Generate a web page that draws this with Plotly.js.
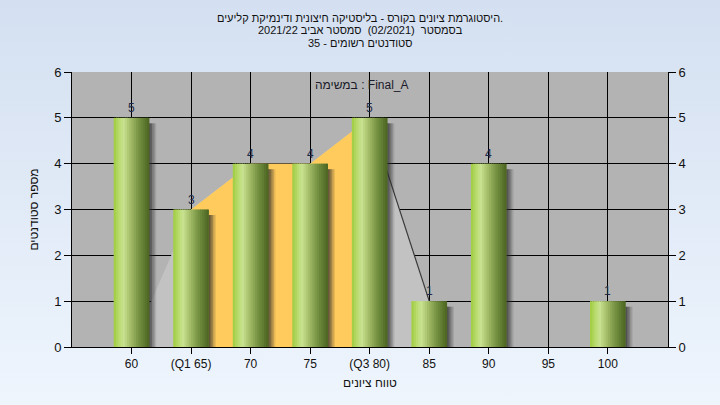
<!DOCTYPE html>
<html>
<head>
<meta charset="utf-8">
<script src="https://cdn.plot.ly/plotly-3.0.1.min.js"></script>
<style>
  html, body { margin: 0; padding: 0; }
  body { width: 720px; height: 405px; background: linear-gradient(to bottom, #d4e0f1 0%, #eef5fd 100%); }
  #chart { width: 720px; height: 405px; }
</style>
</head>
<body>
<div id="chart"></div>
<script>
// ---- data ----
const categories = [60, 65, 70, 75, 80, 85, 90, 95, 100];
const tickLabels = ["60", "(Q1 65)", "70", "75", "(Q3 80)", "85", "90", "95", "100"];
const counts = [5, 3, 4, 4, 5, 1, 4, 0, 1];
const areaX = [60, 65, 70, 75, 80, 85];
const areaY = [0, 3, 4, 4, 5, 1];
const q1 = 65;
const q3 = 80;
const titleLines = [
  "היסטוגרמת ציונים בקורס - בליסטיקה חיצונית ודינמיקת קליעים.",
  "בסמסטר \u00a0(02/2021) \u00a0סמסטר אביב 2021/22",
  "סטודנטים רשומים - 35"
];
const xTitle = "טווח ציונים";
const yTitle = "מספר סטודנטים";
const taskLabel = "במשימה : Final_A";

// ---- styling helpers ----
const FONT = "Liberation Sans, DejaVu Sans, Arial, sans-serif";
const W = 3.0;          // bar width in x units
const N = 16;           // strips per bar for cylinder shading
const stops = [
  [0.00, [158, 204, 62]],
  [0.12, [180, 216, 100]],
  [0.27, [201, 227, 146]],
  [0.45, [168, 192, 108]],
  [0.70, [118, 146, 66]],
  [1.00, [74, 100, 34]]
];
function colorAt(t) {
  for (let i = 1; i < stops.length; i++) {
    if (t <= stops[i][0]) {
      const a = stops[i - 1], b = stops[i];
      const f = (t - a[0]) / (b[0] - a[0]);
      const c = a[1].map((v, k) => Math.round(v + (b[1][k] - v) * f));
      return `rgb(${c[0]},${c[1]},${c[2]})`;
    }
  }
  const c = stops[stops.length - 1][1];
  return `rgb(${c[0]},${c[1]},${c[2]})`;
}
function areaPath(xs, ys) {
  let p = `M ${xs[0]},0`;
  xs.forEach((x, i) => { p += ` L ${x},${ys[i]}`; });
  p += ` L ${xs[xs.length - 1]},0 Z`;
  return p;
}
function linePath(xs, ys) {
  return xs.map((x, i) => `${i ? "L" : "M"} ${x},${ys[i]}`).join(" ");
}

const traces = [];

// shadows
const shadowAlphas = [0.72, 0.58, 0.42, 0.26, 0.12];
const sw = 0.12;
shadowAlphas.forEach((a, i) => {
  traces.push({
    type: "bar", x: categories, y: counts.map(v => v > 0 ? v - 0.12 : 0),
    width: sw + 0.02, offset: W / 2 - 0.04 + i * sw,
    marker: { color: `rgba(45,45,45,${a})`, line: { width: 0 } },
    hoverinfo: "skip", showlegend: false
  });
});

// cylinder bars as strips
for (let i = 0; i < N; i++) {
  const t = (i + 0.5) / N;
  const last = i === N - 1;
  traces.push({
    type: "bar", x: categories, y: counts,
    width: last ? W / N : W / N + 0.08, offset: -W / 2 + i * W / N,
    marker: { color: colorAt(t), line: { width: 0 } },
    hoverinfo: "skip", showlegend: false
  });
}

// dummy for right axis
traces.push({
  type: "scatter", x: [60], y: [0], yaxis: "y2", mode: "markers",
  marker: { opacity: 0 }, hoverinfo: "skip", showlegend: false
});

// area shapes (between grid and traces)
const iqrX = [], iqrY = [], tailX = [], tailY = [];
areaX.forEach((x, i) => {
  if (x >= q1 && x <= q3) { iqrX.push(x); iqrY.push(areaY[i]); }
  if (x >= q3) { tailX.push(x); tailY.push(areaY[i]); }
});
const shapes = [
  { type: "path", xref: "x", yref: "y", layer: "between", path: areaPath(areaX, areaY),
    fillcolor: "#c2c2c2", line: { width: 0 } },
  { type: "path", xref: "x", yref: "y", layer: "between", path: areaPath(iqrX, iqrY),
    fillcolor: "#ffcb5c", line: { width: 0 } },
  { type: "path", xref: "x", yref: "y", layer: "between", path: linePath(tailX, tailY),
    line: { width: 1.2, color: "#3a3a3a" } }
];

const tY = [18, 30, 43];
const annotations = titleLines.map((t, i) => ({
  text: t, xref: "paper", yref: "paper", x: (360 - 72) / 596, y: (347 - tY[i]) / 275,
  xanchor: "center", yanchor: "middle", showarrow: false,
  font: { family: FONT, size: 11, color: "#111" }
}));
annotations.push({
  text: taskLabel, xref: "paper", yref: "paper", x: (362 - 72) / 596, y: (347 - 85) / 275,
  xanchor: "center", yanchor: "middle", showarrow: false,
  font: { family: FONT, size: 12, color: "#1a1a2a" }
});
counts.forEach((v, i) => {
  if (v > 0) annotations.push({
    text: String(v), xref: "x", yref: "y", x: categories[i], y: v,
    xanchor: "center", yanchor: "bottom", yshift: 1, showarrow: false,
    font: { family: FONT, size: 12, color: "#1c2a48" }
  });
});

const layout = {
  width: 720, height: 405,
  margin: { l: 72, r: 52, t: 72, b: 58, pad: 0 },
  paper_bgcolor: "rgba(0,0,0,0)",
  plot_bgcolor: "#b3b3b3",
  barmode: "overlay",
  showlegend: false,
  font: { family: FONT, size: 12, color: "#111" },
  xaxis: {
    range: [55, 105.05],
    tickvals: categories, ticktext: tickLabels,
    showgrid: true, gridcolor: "#000", gridwidth: 1,
    ticks: "outside", ticklen: 6, tickcolor: "#000",
    showline: true, linecolor: "#000", linewidth: 1,
    zeroline: false,
    tickfont: { family: FONT, size: 12, color: "#111" },
    title: { text: xTitle, standoff: 8, font: { family: FONT, size: 12, color: "#111" } }
  },
  yaxis: {
    range: [0, 6], dtick: 1,
    showgrid: true, gridcolor: "#000", gridwidth: 1,
    ticks: "outside", ticklen: 7, tickcolor: "#000",
    showline: true, linecolor: "#000", linewidth: 1,
    zeroline: false,
    tickfont: { family: FONT, size: 13, color: "#111" },
    title: { text: yTitle, standoff: 12, font: { family: FONT, size: 12, color: "#111" } }
  },
  yaxis2: {
    overlaying: "y", side: "right", range: [0, 6], dtick: 1,
    showgrid: false, zeroline: false,
    ticks: "outside", ticklen: 7, tickcolor: "#000",
    showline: true, linecolor: "#000", linewidth: 1,
    tickfont: { family: FONT, size: 13, color: "#111" }
  },
  shapes: shapes,
  annotations: annotations
};

Plotly.newPlot("chart", traces, layout, { displayModeBar: false, staticPlot: true });
</script>
</body>
</html>
